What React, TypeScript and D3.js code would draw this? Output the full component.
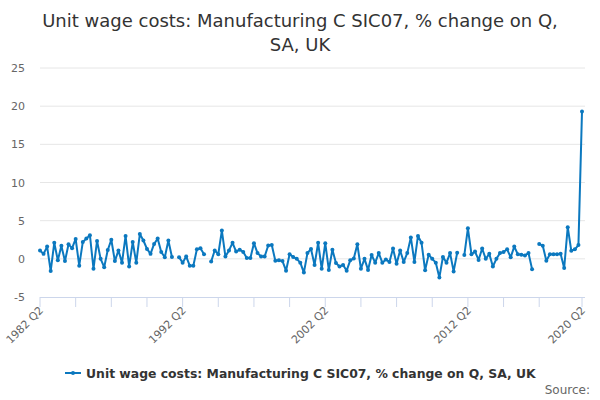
import React from "react";
import * as d3 from "d3";

// quarters 1982 Q2 .. 2020 Q2
const startYear = 1982;
const quarters: string[] = d3.range(153).map((i) => {
  const q = i + 1; // 1982 Q2 is offset 1 from Q1
  return `${startYear + Math.floor(q / 4)} Q${(q % 4) + 1}`;
});

// % change on quarter (null = no value)
const values: (number | null)[] = [
  1.1, 0.65, 1.6, -1.6, 2.1, -0.2, 1.7, -0.3, 1.9, 1.4,
  2.6, -0.9, 2.2, 2.65, 3.1, -1.3, 2.35, 0, -1.1, 1.15,
  2.5, -0.3, 1.1, -0.5, 3.0, -1.0, 2.2, -0.5, 3.25, 2.4,
  1.3, 0.65, 1.95, 2.65, 0.9, 0.2, 2.4, 0.25, null, 0.2,
  -0.5, 0.3, -0.9, -0.9, 1.25, 1.4, 0.6, null, -0.35, 1.1,
  0.6, 3.7, 0.3, 1.1, 2.1, 0.95, 1.2, 0.9, 0.1, 0.1,
  2.05, 0.75, 0.3, 0.3, 1.75, 1.8, -0.25, -0.2, -0.3, -1.55,
  0.6, 0.25, 0, -0.5, -1.8, 0.75, 1.3, -0.8, 2.1, -1.3,
  2.05, -1.45, 1.2, -0.55, -1.0, -0.8, -1.55, -0.2, 0.05, 1.9,
  -1.3, 0, -1.45, 0.5, -0.5, 0.75, -0.5, -0.1, -0.4, 1.35,
  -0.65, 1.1, -0.4, 0.75, 2.8, -0.4, 3.0, 2.1, -1.5, 0.55,
  0, -0.5, -2.45, 0.25, -0.5, 0.75, -1.65, 0.8, null, 0.5,
  4.0, 0.6, 0.95, -0.15, 1.35, 0, 0.65, -1.0, 0, 0.75,
  0.9, 1.25, 0.2, 1.6, 0.6, 0.55, 0.45, 0.75, -1.35, null,
  1.95, 1.7, -0.25, 0.6, 0.6, 0.6, 0.65, -1.2, 4.15, 1.05,
  1.25, 1.8, 19.3,
];

const yTicks = [-5, 0, 5, 10, 15, 20, 25];
const tickQuarters = [
  "1982 Q2", "1984 Q4", "1987 Q2", "1989 Q4", "1992 Q2", "1994 Q4",
  "1997 Q2", "1999 Q4", "2002 Q2", "2004 Q4", "2007 Q2", "2009 Q4",
  "2012 Q2", "2014 Q4", "2017 Q2", "2020 Q2",
];
const labelQuarters = ["1982 Q2", "1992 Q2", "2002 Q2", "2012 Q2", "2020 Q2"];

const titleLines = ["Unit wage costs: Manufacturing C SIC07, % change on Q,", "SA, UK"];
const seriesName = "Unit wage costs: Manufacturing C SIC07, % change on Q, SA, UK";

const W = 600;
const H = 400;
const color = "#0b78bf";
const font = "'DejaVu Sans', Verdana, sans-serif";

export default function App() {
  const x = d3.scalePoint<string>().domain(quarters).range([40, 582]);
  const y = d3.scaleLinear().domain([-5, 25]).range([297, 68]);

  const pts = quarters.map((q, i) => ({ q, v: values[i] }));
  const line = d3
    .line<{ q: string; v: number | null }>()
    .defined((d) => d.v != null)
    .x((d) => x(d.q)!)
    .y((d) => y(d.v as number));

  return (
    <svg
      width={W}
      height={H}
      style={{ position: "absolute", left: 0, top: 0, fontFamily: font }}
    >
      <rect width={W} height={H} fill="#fff" />
      {titleLines.map((t, i) => (
        <text key={i} x={300} y={27 + i * 24} textAnchor="middle" fontSize={18} fill="#333">
          {t}
        </text>
      ))}

      {/* grid */}
      {yTicks.map((t) => (
        <g key={t}>
          {t !== -5 && (
            <line x1={40} x2={585} y1={y(t)} y2={y(t)} stroke="#e6e6e6" />
          )}
          <text x={25} y={y(t) + 4} textAnchor="end" fontSize={11} fill="#666">
            {t}
          </text>
        </g>
      ))}

      {/* x axis */}
      <line x1={40} x2={585} y1={297.5} y2={297.5} stroke="#ccd6eb" />
      {tickQuarters.map((q) => (
        <line key={q} x1={x(q)} x2={x(q)} y1={297} y2={307} stroke="#ccd6eb" />
      ))}
      {labelQuarters.map((q) => (
        <text
          key={q}
          transform={`translate(${x(q)! + 4},${311}) rotate(-45)`}
          textAnchor="end"
          fontSize={11}
          fill="#666"
        >
          {q}
        </text>
      ))}

      {/* series */}
      <path d={line(pts) ?? ""} fill="none" stroke={color} strokeWidth={2} strokeLinejoin="round" />
      {pts
        .filter((d) => d.v != null)
        .map((d) => (
          <circle key={d.q} cx={x(d.q)} cy={y(d.v as number)} r={2} fill={color} />
        ))}

      {/* legend */}
      <line x1={65} x2={81} y1={373} y2={373} stroke={color} strokeWidth={2} />
      <circle cx={73} cy={373} r={2} fill={color} />
      <text x={86} y={378} fontSize={12.4} fontWeight="bold" fill="#333">
        {seriesName}
      </text>
      <text x={590} y={394} textAnchor="end" fontSize={12} fill="#666">
        Source:
      </text>
    </svg>
  );
}
